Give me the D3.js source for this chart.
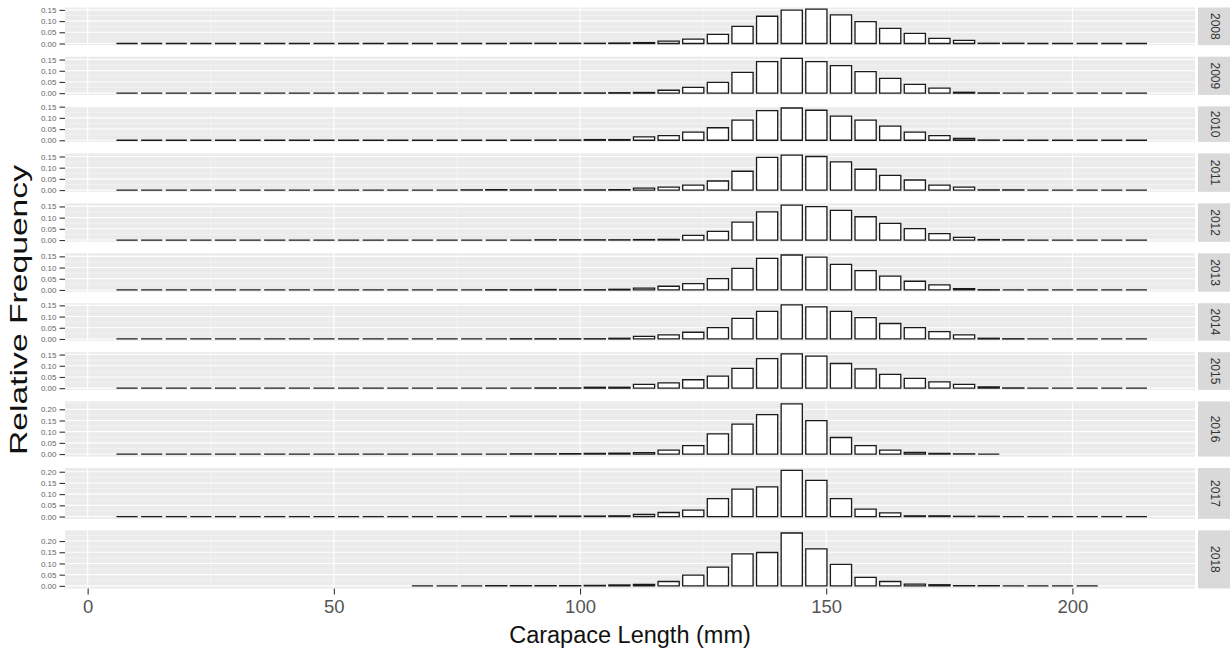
<!DOCTYPE html>
<html>
<head>
<meta charset="utf-8">
<script src="https://cdn.jsdelivr.net/npm/d3@7"></script>
<style>
  body { margin: 0; background: #fff; }
  text { font-family: "Liberation Sans", Arial, Helvetica, sans-serif; }
</style>
</head>
<body>
<svg id="chart" width="1230" height="656"></svg>
<script>
// Survey years, one facet row each
const years = ["2008", "2009", "2010", "2011", "2012", "2013", "2014", "2015", "2016", "2017", "2018"];

// Midpoints of the 5 mm carapace-length classes
const binMids = [8, 13, 18, 23, 28, 33, 38, 43, 48, 53, 58, 63, 68, 73, 78, 83, 88, 93,
                 98, 103, 108, 113, 118, 123, 128, 133, 138, 143, 148, 153, 158, 163, 168, 173, 178, 183,
                 188, 193, 198, 203, 208, 213];

// Relative frequency per length class (null = class not sampled that year)
const freq2008 = [0, 0, 0, 0, 0, 0, 0, 0, 0, 0, 0, 0, 0, 0, 0, 0, 0.001, 0.001,
  0.001, 0.001, 0.002, 0.004, 0.0105, 0.0195, 0.0405, 0.0766, 0.1216, 0.1486, 0.153, 0.128, 0.0976, 0.0676, 0.045, 0.0225, 0.0135, 0.001,
  0.001, 0, 0, 0, 0, 0];
const freq2009 = [0, 0, 0, 0, 0, 0, 0, 0, 0, 0, 0, 0, 0, 0, 0, 0, 0.001, 0.001,
  0.001, 0.001, 0.002, 0.003, 0.013, 0.0255, 0.048, 0.093, 0.141, 0.155, 0.141, 0.123, 0.096, 0.066, 0.039, 0.0225, 0.004, 0.001,
  0, 0, 0, 0, 0, 0];
const freq2010 = [0, 0, 0, 0, 0, 0, 0, 0, 0, 0, 0, 0, 0, 0, 0, 0, 0, 0.001,
  0.001, 0.003, 0.003, 0.015, 0.021, 0.036, 0.056, 0.09, 0.132, 0.144, 0.134, 0.108, 0.09, 0.063, 0.036, 0.021, 0.008, 0.001,
  0, 0, 0, 0, 0, 0];
const freq2011 = [0, 0, 0, 0, 0, 0, 0, 0, 0, 0, 0, 0, 0, 0, 0.001, 0.002, 0.001, 0.001,
  0.001, 0.001, 0.002, 0.009, 0.0135, 0.0225, 0.0405, 0.084, 0.146, 0.156, 0.15, 0.126, 0.093, 0.066, 0.045, 0.0225, 0.0135, 0.001,
  0.001, 0, 0, 0, 0, 0];
const freq2012 = [0, 0, 0, 0, 0, 0, 0, 0, 0, 0, 0, 0, 0, 0, 0, 0, 0, 0.001,
  0.001, 0.001, 0.001, 0.002, 0.003, 0.021, 0.039, 0.08, 0.126, 0.156, 0.149, 0.132, 0.104, 0.074, 0.051, 0.0285, 0.012, 0.002,
  0.001, 0, 0, 0, 0, 0];
const freq2013 = [0, 0, 0, 0, 0, 0, 0, 0, 0, 0, 0, 0, 0, 0, 0, 0.001, 0.001, 0.002,
  0.001, 0.001, 0.003, 0.008, 0.0165, 0.0285, 0.051, 0.096, 0.141, 0.156, 0.147, 0.114, 0.086, 0.0615, 0.039, 0.0225, 0.006, 0.001,
  0, 0, 0, 0, 0, 0];
const freq2014 = [0, 0, 0, 0, 0, 0, 0, 0, 0, 0, 0, 0, 0, 0, 0, 0, 0.001, 0.001,
  0.001, 0.001, 0.003, 0.012, 0.018, 0.03, 0.051, 0.092, 0.123, 0.152, 0.143, 0.123, 0.095, 0.069, 0.051, 0.033, 0.018, 0.003,
  0.001, 0, 0, 0, 0, 0];
const freq2015 = [0, 0, 0, 0, 0, 0, 0, 0, 0, 0, 0, 0, 0, 0, 0, 0, 0, 0.001,
  0.001, 0.004, 0.004, 0.0165, 0.024, 0.0375, 0.054, 0.0886, 0.132, 0.153, 0.143, 0.11, 0.086, 0.0615, 0.0435, 0.0285, 0.0165, 0.006,
  0.001, 0, 0, 0, 0, 0];
const freq2016 = [0, 0, 0, 0, 0, 0, 0, 0, 0, 0, 0, 0, 0, 0, 0, 0, 0.001, 0.001,
  0.002, 0.003, 0.004, 0.006, 0.018, 0.038, 0.09, 0.134, 0.176, 0.224, 0.149, 0.074, 0.038, 0.018, 0.007, 0.003, 0.001, 0,
  null, null, null, null, null, null];
const freq2017 = [0, 0, 0, 0, 0, 0, 0, 0, 0, 0, 0, 0, 0, 0, 0, 0, 0.002, 0.002,
  0.002, 0.002, 0.003, 0.009, 0.018, 0.0285, 0.08, 0.122, 0.132, 0.206, 0.161, 0.08, 0.033, 0.0165, 0.003, 0.003, 0.001, 0.001,
  0, 0, 0, 0, 0, 0];
const freq2018 = [null, null, null, null, null, null, null, null, null, null, null, null, 0, 0, 0, 0.001, 0.001, 0.001,
  0.001, 0.002, 0.004, 0.006, 0.0195, 0.048, 0.084, 0.143, 0.149, 0.236, 0.165, 0.096, 0.0375, 0.0195, 0.008, 0.005, 0.001, 0.001,
  0, 0, 0, 0, null, null];

const series = [freq2008, freq2009, freq2010, freq2011, freq2012, freq2013, freq2014, freq2015, freq2016, freq2017, freq2018];

// Axis breaks
const xBreaks = [0, 50, 100, 150, 200];
const xMinor = [25, 75, 125, 175];
const yStep = 0.05;

// Layout
const panelLeft = 65, panelRight = 1195;
const plotTop = 7.5, plotBottom = 588.5, panelGap = 11.5;
const stripX = 1198, stripW = 34;
const binWidth = 4.3;

const svg = d3.select("#chart");

const x = d3.scaleLinear().domain([-4.6, 224.9]).range([panelLeft, panelRight]);

// Panel heights proportional to each year's y range (free y space)
const maxima = series.map(s => d3.max(s.filter(v => v !== null)));
const spans = maxima.map(m => 1.1 * m);
const pxPerUnit = (plotBottom - plotTop - panelGap * (years.length - 1)) / d3.sum(spans);

let cursor = plotTop;
const panels = years.map((yr, i) => {
  const h = spans[i] * pxPerUnit;
  const p = { year: yr, values: series[i], max: maxima[i], top: cursor, height: h };
  p.y = d3.scaleLinear().domain([-0.05 * maxima[i], 1.05 * maxima[i]]).range([cursor + h, cursor]);
  cursor += h + panelGap;
  return p;
});

panels.forEach(p => {
  const g = svg.append("g");
  const [lo, hi] = p.y.domain();

  // panel background
  g.append("rect")
    .attr("x", panelLeft).attr("y", p.top)
    .attr("width", panelRight - panelLeft).attr("height", p.height)
    .attr("fill", "#ebebeb");

  const majors = d3.range(0, hi + 1e-9, yStep).filter(v => v >= lo);
  const minors = d3.range(yStep / 2, hi + 1e-9, yStep).filter(v => v >= lo && v <= hi);

  // minor grid
  g.selectAll(".hmin").data(minors).join("line")
    .attr("x1", panelLeft).attr("x2", panelRight)
    .attr("y1", d => p.y(d)).attr("y2", d => p.y(d))
    .attr("stroke", "#f6f6f6").attr("stroke-width", 0.6);
  g.selectAll(".vmin").data(xMinor).join("line")
    .attr("x1", d => x(d)).attr("x2", d => x(d))
    .attr("y1", p.top).attr("y2", p.top + p.height)
    .attr("stroke", "#f6f6f6").attr("stroke-width", 0.6);

  // major grid
  g.selectAll(".hmaj").data(majors).join("line")
    .attr("x1", panelLeft).attr("x2", panelRight)
    .attr("y1", d => p.y(d)).attr("y2", d => p.y(d))
    .attr("stroke", "#ffffff").attr("stroke-width", 1.1);
  g.selectAll(".vmaj").data(xBreaks).join("line")
    .attr("x1", d => x(d)).attr("x2", d => x(d))
    .attr("y1", p.top).attr("y2", p.top + p.height)
    .attr("stroke", "#ffffff").attr("stroke-width", 1.1);

  // bars (paths so that zero-height classes still show their outline)
  const bars = binMids.map((m, i) => ({ mid: m, v: p.values[i] })).filter(d => d.v !== null);
  g.selectAll(".bar").data(bars).join("path")
    .attr("d", d => {
      const x0 = x(d.mid - binWidth / 2), x1 = x(d.mid + binWidth / 2);
      const y0 = p.y(0), y1 = p.y(d.v);
      return `M${x0},${y0}H${x1}V${y1}H${x0}Z`;
    })
    .attr("fill", "#ffffff")
    .attr("stroke", "#1a1a1a")
    .attr("stroke-width", 1.3);

  // y axis
  const ax = g.append("g")
    .attr("transform", `translate(${panelLeft},0)`)
    .call(d3.axisLeft(p.y).tickValues(majors).tickFormat(d3.format(".2f")).tickSize(5.5).tickPadding(3));
  ax.select(".domain").remove();
  ax.selectAll(".tick line").attr("stroke", "#333").attr("stroke-width", 1.1);
  ax.selectAll(".tick text")
    .attr("fill", "#666")
    .style("font-size", "8px")
    .style("font-family", '"Liberation Sans", Arial, sans-serif');

  // strip
  g.append("rect")
    .attr("x", stripX).attr("y", p.top)
    .attr("width", stripW).attr("height", p.height)
    .attr("fill", "#d9d9d9");
  g.append("text")
    .attr("transform", `translate(${stripX + 17},${p.top + p.height / 2}) rotate(90)`)
    .attr("text-anchor", "middle")
    .attr("dominant-baseline", "central")
    .attr("fill", "#333")
    .style("font-size", "12px")
    .text(p.year);
});

// x axis under the last panel
const xAx = svg.append("g")
  .attr("transform", `translate(0,${plotBottom})`)
  .call(d3.axisBottom(x).tickValues(xBreaks).tickSize(6).tickPadding(5));
xAx.select(".domain").remove();
xAx.selectAll(".tick line").attr("stroke", "#333").attr("stroke-width", 1.1);
xAx.selectAll(".tick text")
  .attr("fill", "#555")
  .style("font-size", "18.5px")
  .style("font-family", '"Liberation Sans", Arial, sans-serif');

// axis titles
svg.append("text")
  .attr("x", (panelLeft + panelRight) / 2)
  .attr("y", 643)
  .attr("text-anchor", "middle")
  .attr("fill", "#111")
  .style("font-size", "23.5px")
  .text("Carapace Length (mm)");

svg.append("text")
  .attr("transform", `translate(27,310) rotate(-90)`)
  .attr("text-anchor", "middle")
  .attr("fill", "#111")
  .attr("textLength", 290)
  .attr("lengthAdjust", "spacingAndGlyphs")
  .style("font-size", "24.5px")
  .text("Relative Frequency");
</script>
</body>
</html>
